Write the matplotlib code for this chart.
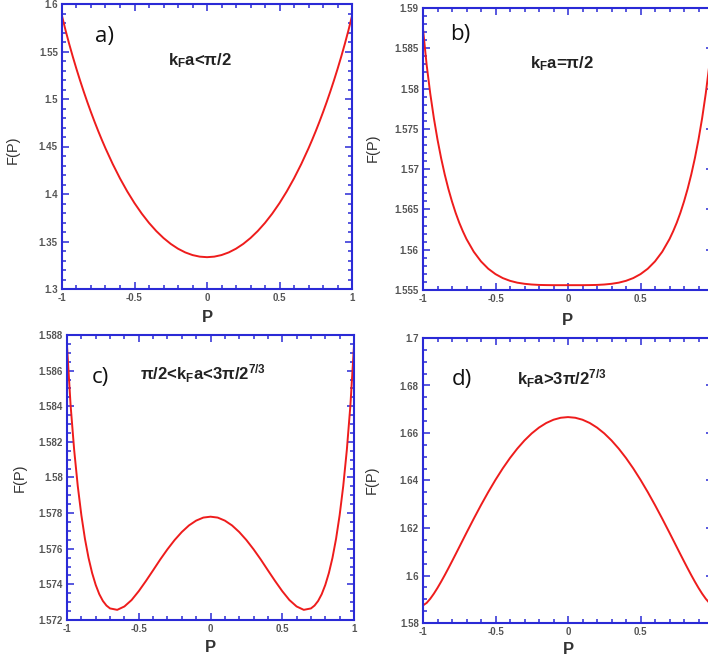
import numpy as np
import matplotlib
matplotlib.use('Agg')
import matplotlib.pyplot as plt
from matplotlib.ticker import MultipleLocator, FuncFormatter

plt.rcParams.update({
    'font.family': ['Liberation Sans', 'DejaVu Sans'],
    'mathtext.fontset': 'custom',
    'mathtext.rm': 'Liberation Sans',
    'mathtext.bf': 'Liberation Sans:bold',
    'mathtext.it': 'Liberation Sans:italic',
})

W, H = 708, 661

# polarization values shared by all four panels
P = [-1, -0.975, -0.95, -0.925, -0.9, -0.875, -0.85, -0.825, -0.8, -0.775,
     -0.75, -0.725, -0.7, -0.65, -0.6, -0.55, -0.5, -0.45, -0.4, -0.35, -0.3,
     -0.25, -0.2, -0.15, -0.1, -0.05,
     0,
     0.05, 0.1, 0.15, 0.2, 0.25, 0.3, 0.35, 0.4, 0.45, 0.5, 0.55, 0.6, 0.65,
     0.7, 0.725, 0.75, 0.775, 0.8, 0.825, 0.85, 0.875, 0.9, 0.925, 0.95,
     0.975, 1]

F_a = [1.58740, 1.57200, 1.55772, 1.54425, 1.53147, 1.51931, 1.50770, 1.49661,
       1.48602, 1.47588, 1.46618, 1.45692, 1.44805, 1.43149, 1.41640, 1.40272,
       1.39039, 1.37936, 1.36958, 1.36102, 1.35366, 1.34746, 1.34242, 1.33851,
       1.33572, 1.33406,
       1.33350,
       1.33406, 1.33572, 1.33851, 1.34242, 1.34746, 1.35366, 1.36102, 1.36958,
       1.37936, 1.39039, 1.40272, 1.41640, 1.43149, 1.44805, 1.45692, 1.46618,
       1.47588, 1.48602, 1.49661, 1.50770, 1.51931, 1.53147, 1.54425, 1.55772,
       1.57200, 1.58740]

F_b = [1.58740, 1.58297, 1.57938, 1.57632, 1.57367, 1.57136, 1.56933, 1.56755,
       1.56598, 1.56458, 1.56335, 1.56228, 1.56132, 1.55975, 1.55855, 1.55764,
       1.55697, 1.55648, 1.55614, 1.55591, 1.55577, 1.55568, 1.55563, 1.55561,
       1.55560, 1.55560,
       1.55560,
       1.55560, 1.55560, 1.55561, 1.55563, 1.55568, 1.55577, 1.55591, 1.55614,
       1.55648, 1.55697, 1.55764, 1.55855, 1.55975, 1.56132, 1.56228, 1.56335,
       1.56458, 1.56598, 1.56755, 1.56933, 1.57136, 1.57367, 1.57632, 1.57938,
       1.58297, 1.58740]

F_c = [1.58740, 1.58406, 1.58154, 1.57952, 1.57789, 1.57656, 1.57549, 1.57464,
       1.57397, 1.57345, 1.57307, 1.57281, 1.57265, 1.57257, 1.57276, 1.57312,
       1.57362, 1.57419, 1.57479, 1.57540, 1.57597, 1.57649, 1.57694, 1.57731,
       1.57758, 1.57775,
       1.57780,
       1.57775, 1.57758, 1.57731, 1.57694, 1.57649, 1.57597, 1.57540, 1.57479,
       1.57419, 1.57362, 1.57312, 1.57276, 1.57257, 1.57265, 1.57281, 1.57307,
       1.57345, 1.57397, 1.57464, 1.57549, 1.57656, 1.57789, 1.57952, 1.58154,
       1.58406, 1.58740]

F_d = [1.58740, 1.58845, 1.59021, 1.59236, 1.59478, 1.59740, 1.60016, 1.60303,
       1.60597, 1.60895, 1.61196, 1.61498, 1.61799, 1.62391, 1.62965, 1.63513,
       1.64029, 1.64509, 1.64947, 1.65340, 1.65687, 1.65984, 1.66229, 1.66421,
       1.66559, 1.66642,
       1.66670,
       1.66642, 1.66559, 1.66421, 1.66229, 1.65984, 1.65687, 1.65340, 1.64947,
       1.64509, 1.64029, 1.63513, 1.62965, 1.62391, 1.61799, 1.61498, 1.61196,
       1.60895, 1.60597, 1.60303, 1.60016, 1.59740, 1.59478, 1.59236, 1.59021,
       1.58845, 1.58740]

panel_tags = ['a)', 'b)', 'c)', 'd)']
regimes = [r'k$_{\mathbf{F}}$a<π/2',
           r'k$_{\mathbf{F}}$a=π/2',
           r'π/2<k$_{\mathbf{F}}$a<3π/2$^{\mathbf{7/3}}$',
           r'k$_{\mathbf{F}}$a>3π/2$^{\mathbf{7/3}}$']
ylims = [(1.3, 1.6), (1.555, 1.59), (1.572, 1.588), (1.58, 1.7)]
ymajor = [0.05, 0.005, 0.002, 0.02]
yminor = [0.01, 0.001, 0.0005, 0.005]

# pixel boxes (left, top, right, bottom); right panels run past the image edge
boxes = [(62, 4, 352, 289), (423, 8, 713, 290),
         (67, 335, 354, 620), (423, 338, 713, 623)]
tag_pos = [(95, 42), (450, 40), (92, 383), (452, 385)]
regime_pos = [(168, 65), (530, 68), (140, 380), (517, 385)]
xlab_pos = [(207, 318), (567, 320), (210, 648), (568, 650)]
ylab_pos = [(13, 150), (373, 148), (20, 478), (372, 480)]

blue = '#2a2ad6'
grey = '#555555'

fig = plt.figure(figsize=(W / 100, H / 100), dpi=100)


def fx(x):
    return x / W


def fy(y):
    return 1 - y / H


def fmt(v, _):
    return '%g' % round(v, 6)


def fmt_cut(v, _):
    # the label at P=1 falls outside the image for the right-hand panels
    return '' if v > 0.99 else fmt(v, _)


for i, F in enumerate([F_a, F_b, F_c, F_d]):
    l, t, r, b = boxes[i]
    ax = fig.add_axes([fx(l), fy(b), (r - l) / W, (b - t) / H])
    ax.plot(P, F, color='#ee1c1c', lw=1.4)
    ax.set_xlim(-1, 1)
    ax.set_ylim(*ylims[i])
    ax.xaxis.set_major_locator(MultipleLocator(0.5))
    ax.xaxis.set_minor_locator(MultipleLocator(0.1))
    ax.yaxis.set_major_locator(MultipleLocator(ymajor[i]))
    ax.yaxis.set_minor_locator(MultipleLocator(yminor[i]))
    ax.xaxis.set_major_formatter(FuncFormatter(fmt_cut if r > W else fmt))
    ax.yaxis.set_major_formatter(FuncFormatter(fmt))
    for s in ax.spines.values():
        s.set_color(blue)
        s.set_linewidth(1.5)
    ax.tick_params(which='both', direction='in', top=True, right=True,
                   color=blue, width=1.1, labelsize=7, labelcolor=grey, pad=3)
    ax.tick_params(which='major', length=5)
    ax.tick_params(which='minor', length=3)
    for lab in ax.get_xticklabels() + ax.get_yticklabels():
        lab.set_fontweight('bold')

    fig.text(fx(tag_pos[i][0]), fy(tag_pos[i][1]), panel_tags[i],
             family='Open Sans', fontsize=16, color='#111111',
             ha='left', va='baseline')
    fig.text(fx(regime_pos[i][0]), fy(regime_pos[i][1]), regimes[i],
             fontsize=12, fontweight='bold', color='#222222',
             ha='left', va='baseline')
    fig.text(fx(xlab_pos[i][0]), fy(xlab_pos[i][1]), 'P', fontsize=12,
             fontweight='bold', color='#333333', ha='center', va='center')
    fig.text(fx(ylab_pos[i][0]), fy(ylab_pos[i][1]), 'F(P)', fontsize=10.5,
             color='#333333', rotation=90, ha='center', va='center')

fig.savefig('out.png', dpi=100)
